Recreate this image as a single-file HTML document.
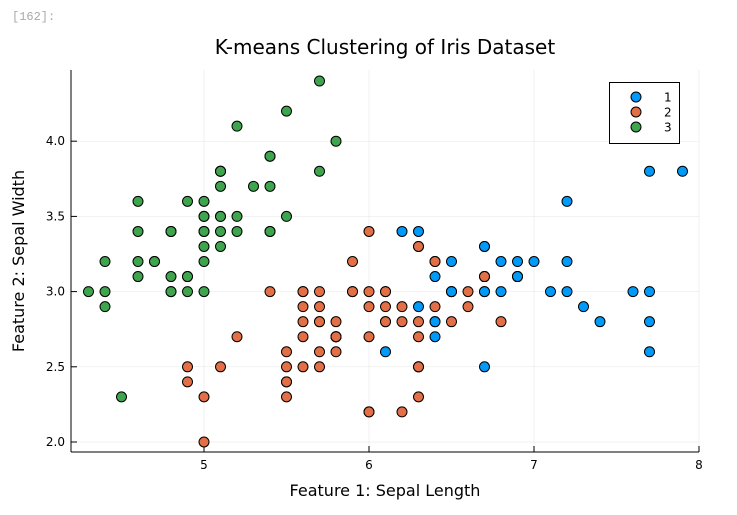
<!DOCTYPE html>
<html><head><meta charset="utf-8"><style>
body{margin:0;background:#fff;width:737px;height:510px;overflow:hidden}
svg text{font-family:"DejaVu Sans","Liberation Sans",sans-serif}
</style></head><body>
<svg id="c" width="737" height="510" xmlns="http://www.w3.org/2000/svg">
<text x="12" y="20" font-size="12" fill="#aaa" style="font-family:'Liberation Mono',monospace">[162]:</text>
<text x="385" y="54" font-size="20" text-anchor="middle">K-means Clustering of Iris Dataset</text>
<text x="385" y="496" font-size="16" text-anchor="middle">Feature 1: Sepal Length</text>
<text x="24" y="261" font-size="16" text-anchor="middle" transform="rotate(-90 24 261)">Feature 2: Sepal Width</text>
<g id="grid"></g><g id="axes"></g><g id="pts"></g>
<g>
<rect x="609.5" y="82.5" width="70" height="61" fill="#fff" stroke="#000" stroke-width="1"/>
<g id="leg"></g></g>
</svg>
<script>
const xTicks=[5,6,7,8];
const yTicks=[2.0,2.5,3.0,3.5,4.0];
const yTickLabels=["2.0","2.5","3.0","3.5","4.0"];
const sepalLength=[5.1,4.9,4.7,4.6,5.0,5.4,4.6,5.0,4.4,4.9,5.4,4.8,4.8,4.3,5.8,5.7,5.4,5.1,5.7,5.1,5.4,5.1,4.6,5.1,4.8,5.0,5.0,5.2,5.2,4.7,4.8,5.4,5.2,5.5,4.9,5.0,5.5,4.9,4.4,5.1,5.0,4.5,4.4,5.0,5.1,4.8,5.1,4.6,5.3,5.0,
7.0,6.4,6.9,5.5,6.5,5.7,6.3,4.9,6.6,5.2,5.0,5.9,6.0,6.1,5.6,6.7,5.6,5.8,6.2,5.6,5.9,6.1,6.3,6.1,6.4,6.6,6.8,6.7,6.0,5.7,5.5,5.5,5.8,6.0,5.4,6.0,6.7,6.3,5.6,5.5,5.5,6.1,5.8,5.0,5.6,5.7,5.7,6.2,5.1,5.7,
6.3,5.8,7.1,6.3,6.5,7.6,4.9,7.3,6.7,7.2,6.5,6.4,6.8,5.7,5.8,6.4,6.5,7.7,7.7,6.0,6.9,5.6,7.7,6.3,6.7,7.2,6.2,6.1,6.4,7.2,7.4,7.9,6.4,6.3,6.1,7.7,6.3,6.4,6.0,6.9,6.7,6.9,5.8,6.8,6.7,6.7,6.3,6.5,6.2,5.9];
const sepalWidth=[3.5,3.0,3.2,3.1,3.6,3.9,3.4,3.4,2.9,3.1,3.7,3.4,3.0,3.0,4.0,4.4,3.9,3.5,3.8,3.8,3.4,3.7,3.6,3.3,3.4,3.0,3.4,3.5,3.4,3.2,3.1,3.4,4.1,4.2,3.1,3.2,3.5,3.6,3.0,3.4,3.5,2.3,3.2,3.5,3.8,3.0,3.8,3.2,3.7,3.3,
3.2,3.2,3.1,2.3,2.8,2.8,3.3,2.4,2.9,2.7,2.0,3.0,2.2,2.9,2.9,3.1,3.0,2.7,2.2,2.5,3.2,2.8,2.5,2.8,2.9,3.0,2.8,3.0,2.9,2.6,2.4,2.4,2.7,2.7,3.0,3.4,3.1,2.3,3.0,2.5,2.6,3.0,2.6,2.3,2.7,3.0,2.9,2.9,2.5,2.8,
3.3,2.7,3.0,2.9,3.0,3.0,2.5,2.9,2.5,3.6,3.2,2.7,3.0,2.5,2.8,3.2,3.0,3.8,2.6,2.2,3.2,2.8,2.8,2.7,3.3,3.2,2.8,3.0,2.8,3.0,2.8,3.8,2.8,2.8,2.6,3.0,3.4,3.1,3.0,3.1,3.1,3.1,2.7,3.2,3.3,3.0,2.5,3.0,3.4,3.0];
const clusters=[3,3,3,3,3,3,3,3,3,3,3,3,3,3,3,3,3,3,3,3,3,3,3,3,3,3,3,3,3,3,3,3,3,3,3,3,3,3,3,3,3,3,3,3,3,3,3,3,3,3,
1,2,1,2,2,2,2,2,2,2,2,2,2,2,2,2,2,2,2,2,2,2,2,2,2,2,2,1,2,2,2,2,2,2,2,2,2,2,2,2,2,2,2,2,2,2,2,2,2,2,
1,2,1,1,1,1,2,1,1,1,1,1,1,2,2,1,1,1,1,2,1,2,1,2,1,1,2,2,1,1,1,1,1,2,1,1,1,1,2,1,1,1,2,1,1,1,2,1,1,2];
const legendLabels=["1","2","3"];
const colors={1:"#009af9",2:"#e26f46",3:"#3ea44e"};
const L=71,R=699,T=70,B=452;
const sx=v=>204+(v-5)*165;
const sy=v=>442-(v-2.0)*150.4;
const NS="http://www.w3.org/2000/svg";
function mk(tag,a,p){const e=document.createElementNS(NS,tag);for(const k in a)e.setAttribute(k,a[k]);p.appendChild(e);return e;}
const grid=document.getElementById('grid'),axes=document.getElementById('axes'),pts=document.getElementById('pts'),leg=document.getElementById('leg');
xTicks.forEach(t=>{const X=sx(t);
 const g=mk('line',{x1:X,x2:X,y1:T,y2:B,stroke:"#000","stroke-opacity":0.1,"stroke-width":0.5},grid);
 
 
 mk('line',{x1:X,x2:X,y1:B,y2:B-6,stroke:"#000","stroke-width":1},axes);
 const tx=mk('text',{x:X,y:B+17,"font-size":12,"text-anchor":"middle"},axes);tx.textContent=t;
 
 
});
yTicks.forEach((t,i)=>{const Y=sy(t);
 const g=mk('line',{x1:L,x2:R,y1:Y,y2:Y,stroke:"#000","stroke-opacity":0.1,"stroke-width":0.5},grid);
 
 
 mk('line',{x1:L,x2:L+6,y1:Y,y2:Y,stroke:"#000","stroke-width":1},axes);
 const tx=mk('text',{x:L-6,y:Y+4,"font-size":12,"text-anchor":"end"},axes);tx.textContent=yTickLabels[i];
 
 
});
const ax=mk('line',{x1:L,x2:R,y1:B,y2:B,stroke:"#000","stroke-width":1},axes);


const ay=mk('line',{x1:L,x2:L,y1:T,y2:B,stroke:"#000","stroke-width":1},axes);


[1,2,3].forEach(c=>{
 for(let i=0;i<sepalLength.length;i++){if(clusters[i]!==c)continue;
  const p=mk('circle',{cx:sx(sepalLength[i]),cy:sy(sepalWidth[i]),r:5,fill:colors[c],stroke:"#000","stroke-width":1},pts);
  
  
 }
});
legendLabels.forEach((l,i)=>{const Y=97+i*15;
 const m=mk('circle',{cx:636,cy:Y,r:5,fill:colors[i+1],stroke:"#000","stroke-width":1},leg);
 
 
 const tx=mk('text',{x:664,y:Y+4.5,"font-size":12},leg);tx.textContent=l;
 
 
});
</script>
</body></html>
